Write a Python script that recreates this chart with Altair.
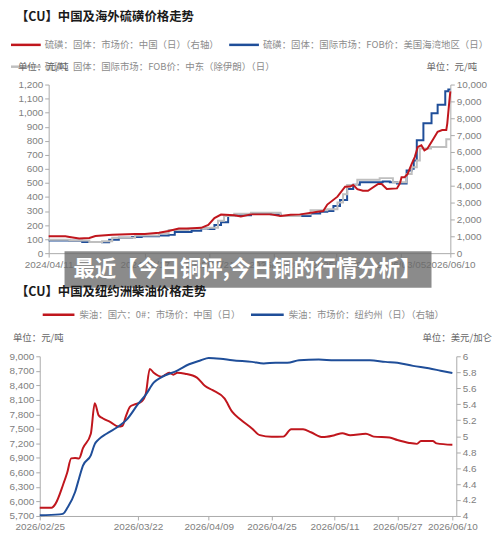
import altair as alt
import pandas as pd

# ---------------- Top chart: sulphur prices ----------------
top_red_dates = ["2024-04-11", "2024-05-14", "2024-05-22", "2024-06-10", "2024-06-30", "2024-07-12",
                 "2024-08-14", "2024-09-28", "2024-10-17", "2024-11-14", "2024-12-03", "2024-12-23",
                 "2025-01-11", "2025-02-05", "2025-02-19", "2025-03-03", "2025-03-16", "2025-04-11",
                 "2025-04-24", "2025-05-14", "2025-06-22", "2025-07-11", "2025-07-31", "2025-08-19",
                 "2025-09-22", "2025-10-03", "2025-10-11", "2025-10-31", "2025-11-15", "2025-11-25",
                 "2025-12-01", "2025-12-09", "2025-12-20", "2025-12-30", "2026-01-19", "2026-01-26",
                 "2026-02-05", "2026-02-25", "2026-03-03", "2026-03-06", "2026-03-12", "2026-03-18",
                 "2026-03-26", "2026-04-01", "2026-04-07", "2026-04-14", "2026-04-20", "2026-04-26",
                 "2026-05-06", "2026-05-16", "2026-05-25", "2026-06-02", "2026-06-04", "2026-06-08",
                 "2026-06-10"]
top_red_vals = [1000, 1000, 960, 875, 900, 1015,
                1085, 1140, 1140, 1210, 1315, 1460,
                1460, 1500, 1670, 2080, 2290, 2250,
                2170, 2300, 2300, 2200, 2280, 2300,
                2450, 2500, 2880, 3350, 3940, 3950,
                4050, 3800, 3700, 3700, 4100, 4100,
                3800, 3840, 4150, 4500, 4500, 4700,
                5300, 5700, 6300, 6400, 6100, 6200,
                6700, 7200, 7300, 7300, 7700, 9000,
                9600]

top_blue_dates = ["2024-04-11", "2024-05-22", "2024-06-16", "2024-07-25", "2024-08-08", "2024-08-27",
                  "2024-09-22", "2024-10-11", "2024-11-14", "2024-12-03", "2024-12-15", "2025-01-17",
                  "2025-02-05", "2025-02-19", "2025-03-03", "2025-03-16", "2025-03-30", "2025-04-11",
                  "2025-05-14", "2025-06-22", "2025-07-11", "2025-08-19", "2025-09-08", "2025-09-27",
                  "2025-10-11", "2025-10-23", "2025-11-05", "2025-11-19", "2025-12-01", "2025-12-14",
                  "2026-01-28", "2026-02-11", "2026-02-25", "2026-03-16", "2026-03-26", "2026-03-30",
                  "2026-04-05", "2026-04-18", "2026-05-04", "2026-05-16", "2026-05-31", "2026-06-06",
                  "2026-06-10"]
top_blue_vals = [90, 88, 80, 78, 95, 110,
                 115, 120, 125, 130, 150, 160,
                 175, 172, 200, 220, 265, 270,
                 282, 276, 264, 264, 282, 294,
                 300, 336, 378, 456, 486, 504,
                 510, 504, 495, 588, 600, 660,
                 804, 924, 996, 1056, 1152, 1164,
                 1164]

top_gray_dates = ["2024-04-11", "2024-05-22", "2024-06-30", "2024-07-25", "2024-08-14", "2024-09-28",
                  "2024-11-14", "2024-12-03", "2025-01-11", "2025-02-19", "2025-03-10", "2025-03-22",
                  "2025-04-11", "2025-05-14", "2025-07-11", "2025-08-19", "2025-09-08", "2025-10-11",
                  "2025-10-31", "2025-11-11", "2025-11-19", "2025-12-09", "2026-01-22", "2026-02-17",
                  "2026-03-16", "2026-03-26", "2026-04-05", "2026-04-11", "2026-05-03", "2026-06-02",
                  "2026-06-10"]
top_gray_vals = [95, 90, 80, 85, 110, 125,
                 140, 165, 175, 180, 230, 265,
                 280, 288, 264, 276, 306, 312,
                 360, 420, 485, 522, 534, 504,
                 564, 612, 660, 744, 756, 810,
                 810]

top_ticks = ["2024-04-11", "2024-10-17", "2025-02-21", "2025-06-28", "2025-10-29", "2026-03-05", "2026-06-10"]
top_left_ticks = [0, 100, 200, 300, 400, 500, 600, 700, 800, 900, 1000, 1100, 1200]
top_right_ticks = [0, 1000, 2000, 3000, 4000, 5000, 6000, 7000, 8000, 9000, 10000]

# ---------------- Bottom chart: diesel prices ----------------
bot_red_dates = ["2026-02-25", "2026-02-28", "2026-03-01", "2026-03-03", "2026-03-04", "2026-03-05",
                 "2026-03-06", "2026-03-07", "2026-03-08", "2026-03-10", "2026-03-11", "2026-03-12",
                 "2026-03-13", "2026-03-15", "2026-03-17", "2026-03-18", "2026-03-19", "2026-03-20",
                 "2026-03-21", "2026-03-23", "2026-03-24", "2026-03-25", "2026-03-26", "2026-03-28",
                 "2026-03-29", "2026-03-30", "2026-03-31", "2026-04-01", "2026-04-03", "2026-04-06",
                 "2026-04-08", "2026-04-10", "2026-04-13", "2026-04-15", "2026-04-17", "2026-04-20",
                 "2026-04-22", "2026-04-25", "2026-04-28", "2026-04-30", "2026-05-03", "2026-05-05",
                 "2026-05-08", "2026-05-11", "2026-05-13", "2026-05-15", "2026-05-19", "2026-05-21",
                 "2026-05-25", "2026-05-27", "2026-05-30", "2026-06-01", "2026-06-02", "2026-06-05",
                 "2026-06-06", "2026-06-10"]
bot_red_vals = [5870, 5870, 5950, 6360, 6600, 6890,
                6900, 6890, 7100, 7400, 8030, 7780,
                7720, 7640, 7550, 7560, 7780, 7960,
                8000, 8070, 8230, 8740, 8660, 8580,
                8620, 8660, 8620, 8660, 8640, 8560,
                8390, 8300, 8130, 7850, 7700, 7510,
                7370, 7336, 7340, 7494, 7490, 7430,
                7330, 7370, 7410, 7370, 7400, 7340,
                7320, 7270, 7210, 7190, 7250, 7250,
                7200, 7170]

bot_blue_dates = ["2026-02-25", "2026-03-02", "2026-03-03", "2026-03-04", "2026-03-06", "2026-03-07",
                  "2026-03-08", "2026-03-10", "2026-03-11", "2026-03-12", "2026-03-14", "2026-03-17",
                  "2026-03-19", "2026-03-22", "2026-03-24", "2026-03-26", "2026-03-28", "2026-04-01",
                  "2026-04-04", "2026-04-07", "2026-04-09", "2026-04-12", "2026-04-15", "2026-04-20",
                  "2026-04-23", "2026-04-26", "2026-04-29", "2026-05-02", "2026-05-07", "2026-05-11",
                  "2026-05-15", "2026-05-20", "2026-05-24", "2026-05-27", "2026-05-31", "2026-06-04",
                  "2026-06-07", "2026-06-10"]
bot_blue_vals = [4.01, 4.02, 4.03, 4.10, 4.30, 4.47,
                 4.63, 4.76, 4.90, 4.96, 5.03, 5.12,
                 5.20, 5.40, 5.52, 5.67, 5.74, 5.82,
                 5.90, 5.95, 5.98, 5.97, 5.95, 5.93,
                 5.91, 5.92, 5.92, 5.95, 5.96, 5.95,
                 5.95, 5.95, 5.93, 5.92, 5.88, 5.85,
                 5.82, 5.79]

bot_ticks = ["2026-02-25", "2026-03-22", "2026-04-09", "2026-04-25", "2026-05-11", "2026-05-27", "2026-06-10"]
bot_left_ticks = [5700, 6000, 6300, 6600, 6900, 7200, 7500, 7800, 8100, 8400, 8700, 9000]
bot_right_ticks = [4, 4.2, 4.4, 4.6, 4.8, 5, 5.2, 5.4, 5.6, 5.8, 6]

# ---------------- helpers ----------------
RED = "#C0161D"
BLUE = "#1F4E99"
GRAY = "#BFBFBF"
CJK = "Noto Sans CJK SC"
AX = dict(domainColor="#aaaaaa", tickColor="#aaaaaa", labelColor="#808080",
          labelFont="Liberation Sans", labelFontSize=10, tickSize=4, grid=False, labelPadding=2)


def frame(dates, vals):
    return pd.DataFrame({"date": pd.to_datetime(dates), "value": vals})


def dt(s):
    y, m, d = (int(p) for p in s.split("-"))
    return alt.DateTime(year=y, month=m, date=d)


one = pd.DataFrame({"k": [0]})


def txt(s, x, y, size=9.5, color="#8c8c8c", weight="normal", align="left"):
    return alt.Chart(one).mark_text(text=s, align=align, baseline="middle", fontSize=size,
                                    color=color, fontWeight=weight, font=CJK).encode(
        x=alt.value(x), y=alt.value(y))


def rule(x1, x2, y, color):
    return alt.Chart(one).mark_rule(color=color, strokeWidth=2.5).encode(
        x=alt.value(x1), x2=alt.value(x2), y=alt.value(y))


# ---------------- top chart ----------------
x_top = alt.X("date:T", title=None,
              scale=alt.Scale(domain=[dt("2024-04-11"), dt("2026-06-10")]),
              axis=alt.Axis(values=[dt(s) for s in top_ticks], format="%Y/%m/%d",
                            labelFlush=False, labelOverlap=False, **AX))
y_top_left = alt.Y("value:Q", title=None, scale=alt.Scale(domain=[0, 1200], nice=False),
                   axis=alt.Axis(orient="left", values=top_left_ticks, format=",d", **AX))
y_top_right = alt.Y("value:Q", title=None, scale=alt.Scale(domain=[0, 10000], nice=False),
                    axis=alt.Axis(orient="right", values=top_right_ticks, format=",d", **AX))

t_blue = alt.Chart(frame(top_blue_dates, top_blue_vals)).mark_line(
    color=BLUE, strokeWidth=2, interpolate="step-after").encode(x=x_top, y=y_top_left)
t_gray = alt.Chart(frame(top_gray_dates, top_gray_vals)).mark_line(
    color=GRAY, strokeWidth=2, interpolate="step-after").encode(x=x_top, y=y_top_left)
t_red = alt.Chart(frame(top_red_dates, top_red_vals)).mark_line(
    color=RED, strokeWidth=2).encode(x=x_top, y=y_top_right)

banner_rect = alt.Chart(one).mark_rect(color="#6a6a6a", opacity=0.78).encode(
    x=alt.value(16), x2=alt.value(386), y=alt.value(168), y2=alt.value(205))

top = alt.layer(
    alt.layer(t_blue, t_gray),
    t_red,
    txt("【CU】中国及海外硫磺价格走势", -33, -68, size=12.5, color="#1a1a1a", weight="bold"),
    rule(-38, -8, -40, RED),
    txt("硫磺：固体：市场价：中国（日）（右轴）", -4, -40),
    rule(182, 212, -40, BLUE),
    txt("硫磺：固体：国际市场：FOB价：美国海湾地区（日）", 216, -40),
    rule(-38, -8, -18, GRAY),
    txt("硫磺：固体：国际市场：FOB价：中东（除伊朗）（日）", -4, -18),
    txt("单位：元/吨", -31, -18, color="#666666"),
    txt("单位：元/吨", 432, -18, color="#666666", align="right"),
    banner_rect,
    txt("最近【今日铜评,今日铜的行情分析】", 25, 187, size=21.5, color="#ffffff", weight="bold"),
).resolve_scale(y="independent").properties(width=405, height=170)

# ---------------- bottom chart ----------------
x_bot = alt.X("date:T", title=None,
              scale=alt.Scale(domain=[dt("2026-02-25"), dt("2026-06-11")], range=[-9, 411]),
              axis=alt.Axis(values=[dt(s) for s in bot_ticks], format="%Y/%m/%d",
                            labelFlush=False, labelOverlap=False, **AX))
y_bot_left = alt.Y("value:Q", title=None, scale=alt.Scale(domain=[5700, 9000], nice=False),
                   axis=alt.Axis(orient="left", values=bot_left_ticks, format=",d", offset=9, **AX))
y_bot_right = alt.Y("value:Q", title=None, scale=alt.Scale(domain=[4, 6], nice=False),
                    axis=alt.Axis(orient="right", values=bot_right_ticks, format=".1~f", **AX))

b_red = alt.Chart(frame(bot_red_dates, bot_red_vals)).mark_line(
    color=RED, strokeWidth=2, interpolate="monotone").encode(x=x_bot, y=y_bot_left)
b_blue = alt.Chart(frame(bot_blue_dates, bot_blue_vals)).mark_line(
    color=BLUE, strokeWidth=2, interpolate="monotone").encode(x=x_bot, y=y_bot_right)

bottom = alt.layer(
    b_red,
    b_blue,
    txt("【CU】中国及纽约洲柴油价格走势", -33, -65, size=12.5, color="#1a1a1a", weight="bold"),
    rule(-6, 26, -42, RED),
    txt("柴油：国六：0#：市场价：中国（日）", 31, -42),
    rule(204, 237, -42, BLUE),
    txt("柴油：市场价：纽约州（日）（右轴）", 242, -42),
    txt("单位：元/吨", -36, -18, color="#666666"),
    txt("单位：美元/加仑", 447, -18, color="#666666", align="right"),
).resolve_scale(y="independent").properties(width=411, height=161)

chart = alt.vconcat(top, bottom, spacing=-2).properties(
    padding={"top": 1, "left": 0, "right": 0, "bottom": 0}
).configure_view(strokeWidth=0)

chart.save("out.html", embed_options={"renderer": "svg", "actions": False})
